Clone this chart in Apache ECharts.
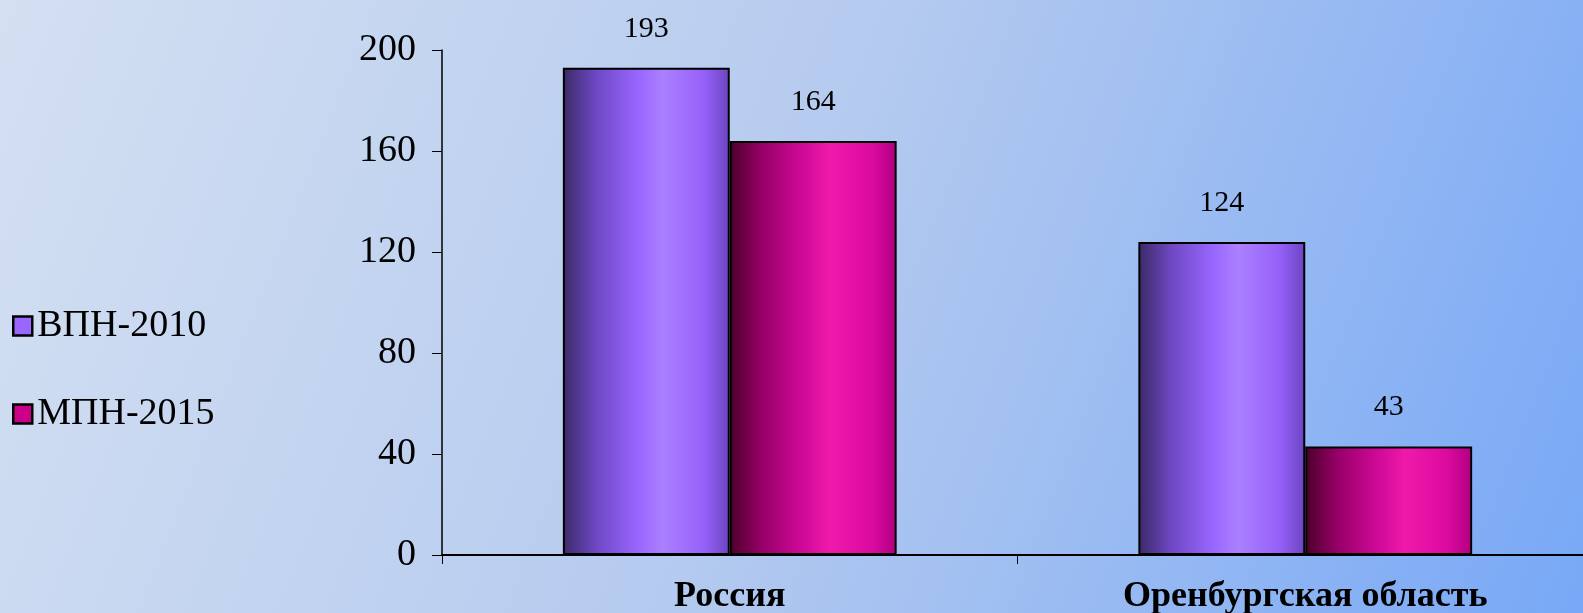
<!DOCTYPE html>
<html>
<head>
<meta charset="utf-8">
<script src="https://cdn.jsdelivr.net/npm/echarts@6/dist/echarts.min.js"></script>
<style>
html,body{margin:0;padding:0;}
#chart{width:1583px;height:613px;}
</style>
</head>
<body>
<div id="chart"></div>
<script>
var categories = ['Россия', 'Оренбургская область'];
var seriesNames = ['ВПН-2010', 'МПН-2015'];
var vpn2010 = [193, 124];
var mpn2015 = [164, 43];
var yTicks = [0, 40, 80, 120, 160, 200];

function barGrad(stops) {
    return new echarts.graphic.LinearGradient(0, 0, 1, 0, stops);
}
var purple = barGrad([
    {offset: 0, color: '#3a2a66'},
    {offset: 0.2, color: '#6e48c4'},
    {offset: 0.45, color: '#9966ff'},
    {offset: 0.6, color: '#ab80ff'},
    {offset: 0.85, color: '#9560f8'},
    {offset: 1, color: '#6b44c0'}
]);
var pink = barGrad([
    {offset: 0, color: '#4a0028'},
    {offset: 0.2, color: '#99006a'},
    {offset: 0.45, color: '#d20a99'},
    {offset: 0.6, color: '#f01aaa'},
    {offset: 0.85, color: '#dc0aa0'},
    {offset: 1, color: '#b00080'}
]);

var chart = echarts.init(document.getElementById('chart'));
var font = '"Liberation Serif", "Times New Roman", serif';
chart.setOption({
    backgroundColor: new echarts.graphic.LinearGradient(0, 0, 1, 1, [
        {offset: 0, color: '#d4e0f2'},
        {offset: 0.5, color: '#b4caef'},
        {offset: 1, color: '#78a8f6'}
    ]),
    animation: false,
    textStyle: {fontFamily: font},
    legend: {
        orient: 'vertical',
        left: 7,
        top: 302,
        itemGap: 50,
        itemWidth: 19,
        itemHeight: 19,
        icon: 'rect',
        textStyle: {fontSize: 38, color: '#000', fontFamily: font},
        data: [
            {name: seriesNames[0], itemStyle: {color: '#9966ff', borderColor: '#000', borderWidth: 2.5}},
            {name: seriesNames[1], itemStyle: {color: '#cc0088', borderColor: '#000', borderWidth: 2.5}}
        ]
    },
    grid: {left: 442, right: -10, top: 50, bottom: 58, outerBoundsMode: 'none', containLabel: false},
    xAxis: {
        type: 'category',
        data: categories,
        axisLine: {lineStyle: {color: '#000', width: 2}},
        axisTick: {show: true, length: 9, lineStyle: {color: '#000'}},
        axisLabel: {fontSize: 36, fontWeight: 'bold', color: '#000', margin: 24, fontFamily: font}
    },
    yAxis: {
        type: 'value',
        min: yTicks[0],
        max: yTicks[yTicks.length - 1],
        interval: 40,
        splitLine: {show: false},
        axisLine: {show: true, lineStyle: {color: '#000', width: 1.5}},
        axisTick: {show: true, length: 10, lineStyle: {color: '#000'}},
        axisLabel: {fontSize: 38, color: '#000', margin: 26, fontFamily: font}
    },
    series: [
        {
            name: seriesNames[0],
            type: 'bar',
            data: vpn2010,
            barGap: '0%',
            barCategoryGap: '42%',
            itemStyle: {color: purple, borderColor: '#000', borderWidth: 2},
            label: {show: true, position: 'top', distance: 24, fontSize: 30, color: '#000', fontFamily: font}
        },
        {
            name: seriesNames[1],
            type: 'bar',
            data: mpn2015,
            itemStyle: {color: pink, borderColor: '#000', borderWidth: 2},
            label: {show: true, position: 'top', distance: 24, fontSize: 30, color: '#000', fontFamily: font}
        }
    ]
});
</script>
</body>
</html>
